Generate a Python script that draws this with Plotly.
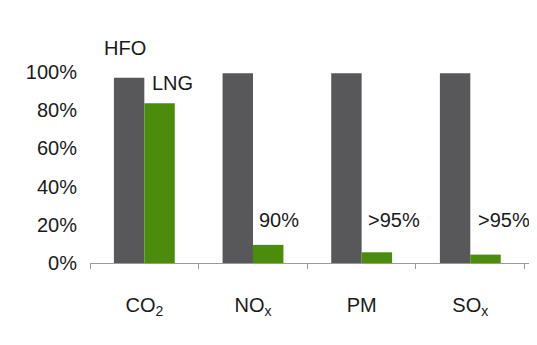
import plotly.graph_objects as go

categories = ["CO<sub>2</sub>", "NO<sub>x</sub>", "PM", "SO<sub>x</sub>"]
hfo_values = [97, 99.3, 99.3, 99.3]
lng_values = [83.7, 9.5, 5.6, 4.4]
y_ticks = [0, 20, 40, 60, 80, 100]
y_tick_labels = ["0%", "20%", "40%", "60%", "80%", "100%"]
reduction_labels = ["90%", ">95%", ">95%"]

FONT = "Arial, Liberation Sans, sans-serif"
TXT = "#1a1a1a"

fig = go.Figure()
fig.add_trace(go.Bar(name="HFO", x=categories, y=hfo_values, marker_color="#58585a",
                     marker_line_width=0))
fig.add_trace(go.Bar(name="LNG", x=categories, y=lng_values, marker_color="#4b8c0a",
                     marker_line_width=0))

# series name labels (HFO sits above the plot area -> paper y)
fig.add_annotation(x=-0.18, y=1.125, xref="x", yref="paper", text="HFO", showarrow=False,
                   xanchor="center", yanchor="middle",
                   font=dict(size=20, color=TXT, family=FONT))
fig.add_annotation(x=0.26, y=94.2, xref="x", yref="y", text="LNG", showarrow=False,
                   font=dict(size=20, color=TXT, family=FONT))
for xi, txt in zip([1.24, 2.30, 3.31], reduction_labels):
    fig.add_annotation(x=xi, y=22.5, xref="x", yref="y", text=txt, showarrow=False,
                       font=dict(size=20, color=TXT, family=FONT))

fig.update_layout(
    width=529, height=337,
    margin=dict(l=82, r=5, t=64, b=82),
    paper_bgcolor="white", plot_bgcolor="white",
    barmode="group", bargap=0.44, bargroupgap=0,
    showlegend=False,
    font=dict(family=FONT, size=20, color=TXT),
)
fig.update_xaxes(
    type="category", showgrid=False, showline=True, linecolor="#9a9a9a", linewidth=1,
    ticks="outside", tickson="boundaries", ticklen=5, tickcolor="#9a9a9a",
    ticklabelstandoff=24, tickfont=dict(size=20, family=FONT, color=TXT),
)
fig.update_yaxes(
    range=[0, 100], showgrid=False, zeroline=False, showline=False,
    tickvals=y_ticks, ticktext=y_tick_labels, ticks="",
    ticklabelstandoff=12, tickfont=dict(size=20, family=FONT, color=TXT),
)

fig.write_html("out.html")
